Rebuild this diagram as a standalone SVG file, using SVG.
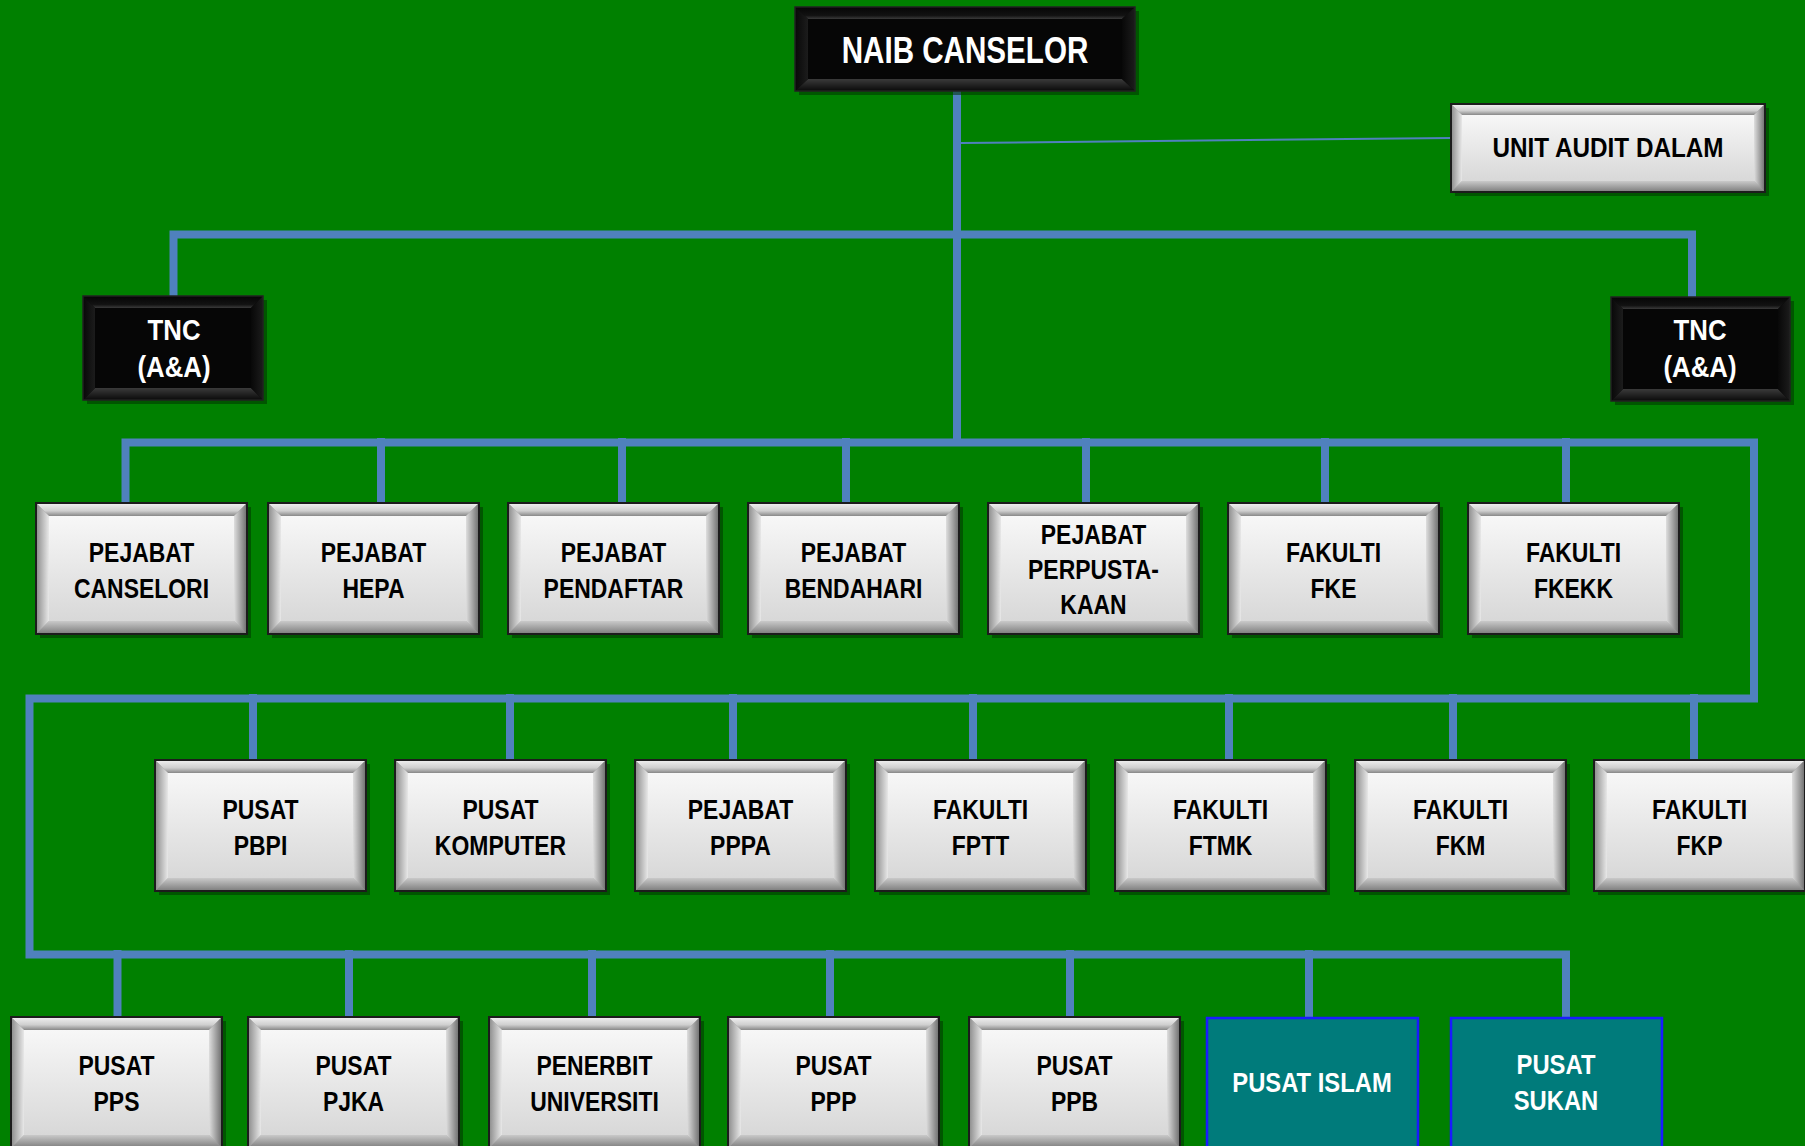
<svg xmlns="http://www.w3.org/2000/svg" xmlns:xlink="http://www.w3.org/1999/xlink" width="1805" height="1146" viewBox="0 0 1805 1146">
<defs>
<style>
.bg{fill:#008000}
.ln{stroke:#4f81bd;stroke-width:8;fill:none;stroke-linecap:square}
.thin{stroke:#4f81bd;stroke-width:2;fill:none}
.t{font-family:"Liberation Sans",Arial,sans-serif;font-weight:bold;font-size:27px;fill:#000;text-anchor:middle}
.tw{font-family:"Liberation Sans",Arial,sans-serif;font-weight:bold;fill:#fff;text-anchor:middle}
.sh{fill:#003300;opacity:.55}
.edge{fill:none;stroke:#1c1c1c;stroke-width:2}
.teal{fill:#007b7b;stroke:#1a1aff;stroke-width:2.5}
</style>
<linearGradient id="gTop" x1="0" y1="0" x2="0" y2="1"><stop offset="0" stop-color="#f2f2f2"/><stop offset="0.6" stop-color="#cfcfcf"/><stop offset="1" stop-color="#888"/></linearGradient>
<linearGradient id="gBot" x1="0" y1="0" x2="0" y2="1"><stop offset="0" stop-color="#c9c9c9"/><stop offset="1" stop-color="#7c7c7c"/></linearGradient>
<linearGradient id="gLeft" x1="0" y1="0" x2="1" y2="0"><stop offset="0" stop-color="#8a8a8a"/><stop offset="1" stop-color="#e8e8e8"/></linearGradient>
<linearGradient id="gRight" x1="0" y1="0" x2="1" y2="0"><stop offset="0" stop-color="#dedede"/><stop offset="1" stop-color="#6c6c6c"/></linearGradient>
<linearGradient id="gFace" x1="0" y1="0" x2="0" y2="1"><stop offset="0" stop-color="#f7f7f7"/><stop offset="1" stop-color="#d8d8d8"/></linearGradient>
<linearGradient id="kTop" x1="0" y1="0" x2="0" y2="1"><stop offset="0" stop-color="#050505"/><stop offset="0.7" stop-color="#121212"/><stop offset="1" stop-color="#3a3a3a"/></linearGradient>
<linearGradient id="kBot" x1="0" y1="0" x2="0" y2="1"><stop offset="0" stop-color="#3a3a3a"/><stop offset="1" stop-color="#0a0a0a"/></linearGradient>
<linearGradient id="kSide" x1="0" y1="0" x2="1" y2="0"><stop offset="0" stop-color="#080808"/><stop offset="1" stop-color="#1c1c1c"/></linearGradient>
<g id="silver">
<rect class="sh" x="4" y="4" width="211" height="131"/>
<rect x="0" y="0" width="211" height="131" fill="#9a9a9a"/>
<polygon points="0,0 211,0 198,13 13,13" fill="url(#gTop)"/>
<polygon points="0,131 211,131 198,118 13,118" fill="url(#gBot)"/>
<polygon points="0,0 13,13 13,118 0,131" fill="url(#gLeft)"/>
<polygon points="211,0 198,13 198,118 211,131" fill="url(#gRight)"/>
<rect x="13" y="13" width="185" height="105" fill="url(#gFace)"/>
<rect class="edge" x="0" y="0" width="211" height="131"/>
</g>
</defs>
<rect class="bg" x="0" y="0" width="1805" height="1146"/>

<g id="connectors">
<line class="ln" x1="957" y1="91" x2="957" y2="442"/>
<line class="thin" x1="961" y1="143" x2="1451" y2="138"/>
<polyline class="ln" points="173.5,296 173.5,234.5 1692,234.5 1692,297"/>
<polyline class="ln" points="125.5,503 125.5,442.5 1754,442.5 1754,698.5 29.5,698.5 29.5,954.5 1566,954.5 1566,1017"/>
<line class="ln" x1="381" y1="442" x2="381" y2="503"/>
<line class="ln" x1="622" y1="442" x2="622" y2="503"/>
<line class="ln" x1="846" y1="442" x2="846" y2="503"/>
<line class="ln" x1="1086" y1="442" x2="1086" y2="503"/>
<line class="ln" x1="1325" y1="442" x2="1325" y2="503"/>
<line class="ln" x1="1566" y1="442" x2="1566" y2="503"/>
<line class="ln" x1="253" y1="698" x2="253" y2="760"/>
<line class="ln" x1="510" y1="698" x2="510" y2="760"/>
<line class="ln" x1="733" y1="698" x2="733" y2="760"/>
<line class="ln" x1="973" y1="698" x2="973" y2="760"/>
<line class="ln" x1="1229" y1="698" x2="1229" y2="760"/>
<line class="ln" x1="1453" y1="698" x2="1453" y2="760"/>
<line class="ln" x1="1694" y1="698" x2="1694" y2="760"/>
<line class="ln" x1="117.5" y1="954" x2="117.5" y2="1017"/>
<line class="ln" x1="349" y1="954" x2="349" y2="1017"/>
<line class="ln" x1="592" y1="954" x2="592" y2="1017"/>
<line class="ln" x1="830" y1="954" x2="830" y2="1017"/>
<line class="ln" x1="1070" y1="954" x2="1070" y2="1017"/>
<line class="ln" x1="1309" y1="954" x2="1309" y2="1017"/>
</g>

<g id="naib-canselor">
<rect class="sh" x="799" y="11" width="340" height="84"/>
<rect x="795" y="7" width="340" height="84" fill="#060606"/>
<polygon points="795,7 1135,7 1122,19 808,19" fill="url(#kTop)"/>
<polygon points="795,91 1135,91 1122,79 808,79" fill="url(#kBot)"/>
<polygon points="795,7 808,19 808,79 795,91" fill="url(#kSide)"/>
<polygon points="1135,7 1122,19 1122,79 1135,91" fill="url(#kSide)"/>
<rect x="795" y="7" width="340" height="84" fill="none" stroke="#222" stroke-width="1.5"/>
<text class="tw" font-size="37" transform="translate(965,0) scale(0.8,1)" x="0" y="63">NAIB CANSELOR</text>
</g>

<g id="unit-audit-dalam">
<rect class="sh" x="1455" y="108" width="314" height="88"/>
<rect x="1451" y="104" width="314" height="88" fill="#9a9a9a"/>
<polygon points="1451,104 1765,104 1754,115 1462,115" fill="url(#gTop)"/>
<polygon points="1451,192 1765,192 1754,181 1462,181" fill="url(#gBot)"/>
<polygon points="1451,104 1462,115 1462,181 1451,192" fill="url(#gLeft)"/>
<polygon points="1765,104 1754,115 1754,181 1765,192" fill="url(#gRight)"/>
<rect x="1462" y="115" width="292" height="66" fill="url(#gFace)"/>
<rect class="edge" x="1451" y="104" width="314" height="88"/>
<text class="t" font-size="28" transform="translate(1608,0) scale(0.9,1)" x="0" y="157">UNIT AUDIT DALAM</text>
</g>

<g id="tnc-left">
<rect class="sh" x="87" y="300" width="180" height="104"/>
<rect x="83" y="296" width="180" height="104" fill="#060606"/>
<polygon points="83,296 263,296 251,308 95,308" fill="url(#kTop)"/>
<polygon points="83,400 263,400 251,388 95,388" fill="url(#kBot)"/>
<polygon points="83,296 95,308 95,388 83,400" fill="url(#kSide)"/>
<polygon points="263,296 251,308 251,388 263,400" fill="url(#kSide)"/>
<rect x="83" y="296" width="180" height="104" fill="none" stroke="#222" stroke-width="1.5"/>
<text class="tw" font-size="30" transform="translate(174,0) scale(0.86,1)"><tspan x="0" y="340">TNC</tspan><tspan x="0" y="377">(A&amp;A)</tspan></text>
</g>

<g id="tnc-right">
<rect class="sh" x="1615" y="301" width="179" height="104"/>
<rect x="1611" y="297" width="179" height="104" fill="#060606"/>
<polygon points="1611,297 1790,297 1778,309 1623,309" fill="url(#kTop)"/>
<polygon points="1611,401 1790,401 1778,389 1623,389" fill="url(#kBot)"/>
<polygon points="1611,297 1623,309 1623,389 1611,401" fill="url(#kSide)"/>
<polygon points="1790,297 1778,309 1778,389 1790,401" fill="url(#kSide)"/>
<rect x="1611" y="297" width="179" height="104" fill="none" stroke="#222" stroke-width="1.5"/>
<text class="tw" font-size="30" transform="translate(1700,0) scale(0.86,1)"><tspan x="0" y="340">TNC</tspan><tspan x="0" y="377">(A&amp;A)</tspan></text>
</g>

<g id="pejabat-canselori"><use xlink:href="#silver" x="36" y="503"/><text class="t" transform="translate(141.5,0) scale(0.85,1)"><tspan x="0" y="562">PEJABAT</tspan><tspan x="0" y="598">CANSELORI</tspan></text></g>
<g id="pejabat-hepa"><use xlink:href="#silver" x="268" y="503"/><text class="t" transform="translate(373.5,0) scale(0.85,1)"><tspan x="0" y="562">PEJABAT</tspan><tspan x="0" y="598">HEPA</tspan></text></g>
<g id="pejabat-pendaftar"><use xlink:href="#silver" x="508" y="503"/><text class="t" transform="translate(613.5,0) scale(0.85,1)"><tspan x="0" y="562">PEJABAT</tspan><tspan x="0" y="598">PENDAFTAR</tspan></text></g>
<g id="pejabat-bendahari"><use xlink:href="#silver" x="748" y="503"/><text class="t" transform="translate(853.5,0) scale(0.85,1)"><tspan x="0" y="562">PEJABAT</tspan><tspan x="0" y="598">BENDAHARI</tspan></text></g>
<g id="pejabat-perpustakaan"><use xlink:href="#silver" x="988" y="503"/><text class="t" transform="translate(1093.5,0) scale(0.85,1)"><tspan x="0" y="544">PEJABAT</tspan><tspan x="0" y="579">PERPUSTA-</tspan><tspan x="0" y="614">KAAN</tspan></text></g>
<g id="fakulti-fke"><use xlink:href="#silver" x="1228" y="503"/><text class="t" transform="translate(1333.5,0) scale(0.85,1)"><tspan x="0" y="562">FAKULTI</tspan><tspan x="0" y="598">FKE</tspan></text></g>
<g id="fakulti-fkekk"><use xlink:href="#silver" x="1468" y="503"/><text class="t" transform="translate(1573.5,0) scale(0.85,1)"><tspan x="0" y="562">FAKULTI</tspan><tspan x="0" y="598">FKEKK</tspan></text></g>

<g id="pusat-pbpi"><use xlink:href="#silver" x="155" y="760"/><text class="t" transform="translate(260.5,0) scale(0.85,1)"><tspan x="0" y="819">PUSAT</tspan><tspan x="0" y="855">PBPI</tspan></text></g>
<g id="pusat-komputer"><use xlink:href="#silver" x="395" y="760"/><text class="t" transform="translate(500.5,0) scale(0.85,1)"><tspan x="0" y="819">PUSAT</tspan><tspan x="0" y="855">KOMPUTER</tspan></text></g>
<g id="pejabat-pppa"><use xlink:href="#silver" x="635" y="760"/><text class="t" transform="translate(740.5,0) scale(0.85,1)"><tspan x="0" y="819">PEJABAT</tspan><tspan x="0" y="855">PPPA</tspan></text></g>
<g id="fakulti-fptt"><use xlink:href="#silver" x="875" y="760"/><text class="t" transform="translate(980.5,0) scale(0.85,1)"><tspan x="0" y="819">FAKULTI</tspan><tspan x="0" y="855">FPTT</tspan></text></g>
<g id="fakulti-ftmk"><use xlink:href="#silver" x="1115" y="760"/><text class="t" transform="translate(1220.5,0) scale(0.85,1)"><tspan x="0" y="819">FAKULTI</tspan><tspan x="0" y="855">FTMK</tspan></text></g>
<g id="fakulti-fkm"><use xlink:href="#silver" x="1355" y="760"/><text class="t" transform="translate(1460.5,0) scale(0.85,1)"><tspan x="0" y="819">FAKULTI</tspan><tspan x="0" y="855">FKM</tspan></text></g>
<g id="fakulti-fkp"><use xlink:href="#silver" x="1594" y="760"/><text class="t" transform="translate(1699.5,0) scale(0.85,1)"><tspan x="0" y="819">FAKULTI</tspan><tspan x="0" y="855">FKP</tspan></text></g>

<g id="pusat-pps"><use xlink:href="#silver" x="11" y="1017"/><text class="t" transform="translate(116.5,0) scale(0.85,1)"><tspan x="0" y="1075">PUSAT</tspan><tspan x="0" y="1111">PPS</tspan></text></g>
<g id="pusat-pjka"><use xlink:href="#silver" x="248" y="1017"/><text class="t" transform="translate(353.5,0) scale(0.85,1)"><tspan x="0" y="1075">PUSAT</tspan><tspan x="0" y="1111">PJKA</tspan></text></g>
<g id="penerbit-universiti"><use xlink:href="#silver" x="489" y="1017"/><text class="t" transform="translate(594.5,0) scale(0.85,1)"><tspan x="0" y="1075">PENERBIT</tspan><tspan x="0" y="1111">UNIVERSITI</tspan></text></g>
<g id="pusat-ppp"><use xlink:href="#silver" x="728" y="1017"/><text class="t" transform="translate(833.5,0) scale(0.85,1)"><tspan x="0" y="1075">PUSAT</tspan><tspan x="0" y="1111">PPP</tspan></text></g>
<g id="pusat-ppb"><use xlink:href="#silver" x="969" y="1017"/><text class="t" transform="translate(1074.5,0) scale(0.85,1)"><tspan x="0" y="1075">PUSAT</tspan><tspan x="0" y="1111">PPB</tspan></text></g>

<g id="pusat-islam">
<rect class="teal" x="1207" y="1018" width="211" height="135"/>
<text class="tw" font-size="28" transform="translate(1312,0) scale(0.85,1)" x="0" y="1092">PUSAT ISLAM</text>
</g>
<g id="pusat-sukan">
<rect class="teal" x="1451" y="1018" width="211" height="135"/>
<text class="tw" font-size="28" transform="translate(1556,0) scale(0.85,1)"><tspan x="0" y="1074">PUSAT</tspan><tspan x="0" y="1110">SUKAN</tspan></text>
</g>
</svg>
